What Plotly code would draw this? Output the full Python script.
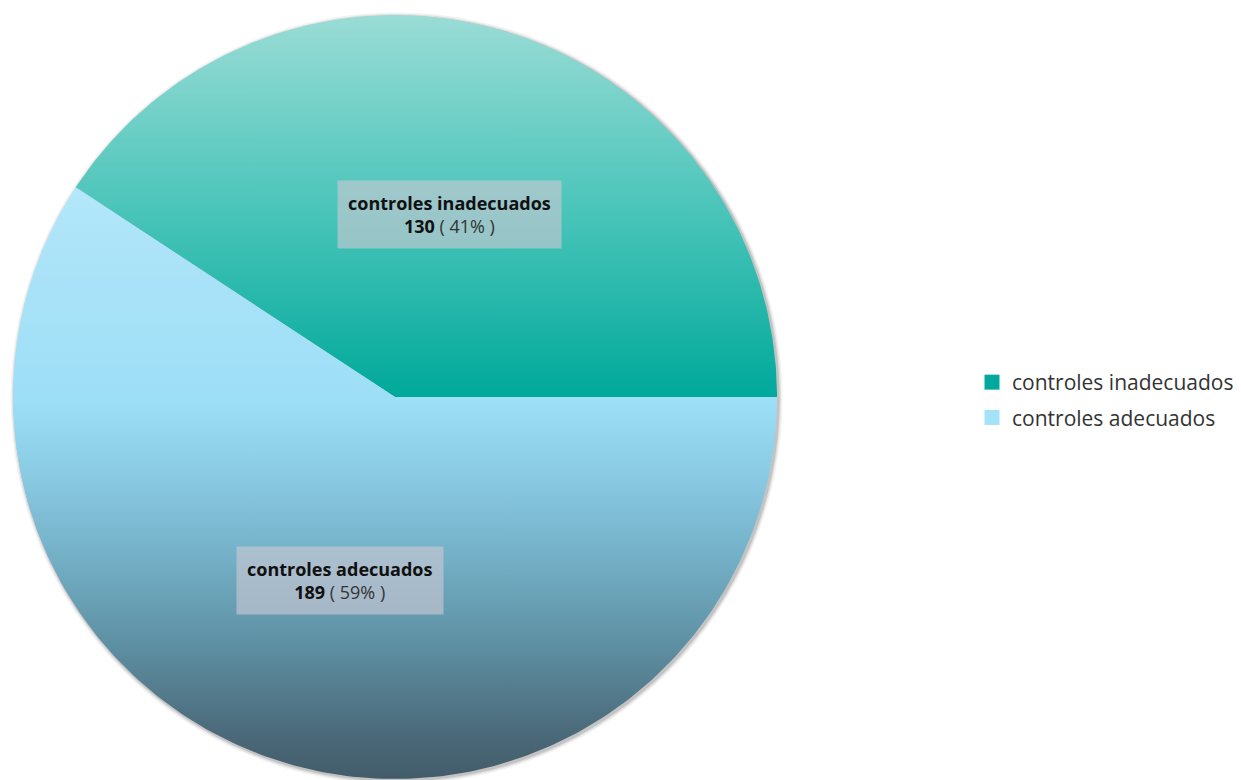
import numpy as np
import plotly.graph_objects as go

# Data
categories = ["controles inadecuados", "controles adecuados"]
values = [130, 189]
legend_colors = ["#00a99b", "#a3e2f8"]
# vertical gradients per slice (bottom -> top)
gradients = [
    [[0.0, "#00a99b"], [0.5, "#4cc5ba"], [1.0, "#9adcd6"]],
    [[0.0, "#435c6a"], [0.07, "#4a6878"], [0.235, "#5f92a5"], [0.40, "#77b5cc"],
     [0.54, "#8ecfe8"], [0.64, "#9ddff7"], [0.89, "#ace3f8"], [1.0, "#b3e8fa"]],
]

W, H = 1241, 780
cx, cy, r = 395, 383, 382
start_deg = 0.0  # first slice starts at 3 o'clock, counterclockwise

total = sum(values)
fig = go.Figure()

# soft drop shadow under the pie
for grow, alpha in [(4, 0.05), (2.5, 0.08), (1.2, 0.12)]:
    fig.add_shape(type="circle", xref="x", yref="y",
                  x0=cx - r - grow + 1.5, x1=cx + r + grow + 1.5,
                  y0=cy - r - grow - 1.5, y1=cy + r + grow - 1.5,
                  line=dict(width=0), fillcolor=f"rgba(0,0,0,{alpha})", layer="below")

angle = start_deg
for name, val, grad in zip(categories, values, gradients):
    span = 360.0 * val / total
    th = np.radians(np.linspace(angle, angle + span, 240))
    xs = np.concatenate([[cx], cx + r * np.cos(th), [cx]])
    ys = np.concatenate([[cy], cy + r * np.sin(th), [cy]])
    fig.add_trace(go.Scatter(
        x=xs, y=ys, mode="lines", fill="toself",
        line=dict(width=0, color="rgba(0,0,0,0)"),
        fillgradient=dict(type="vertical", colorscale=grad),
        showlegend=False, hoverinfo="skip",
    ))
    mid = np.radians(angle + span / 2)
    pct = round(100 * val / total)
    fig.add_annotation(
        x=cx + 0.5 * r * np.cos(mid), y=cy + 0.5 * r * np.sin(mid),
        xref="x", yref="y", showarrow=False,
        text=f"<b>{name}</b><br><b>{val}</b> <span style='color:#333'>( {pct}% )</span>",
        font=dict(family="Open Sans", size=18, color="#111"),
        bgcolor="rgba(205,200,212,0.62)", borderpad=10, align="center",
    )
    angle += span

# legend entries
for name, col in zip(categories, legend_colors):
    fig.add_trace(go.Scatter(
        x=[None], y=[None], mode="markers", name=name, legendgroup=name,
        marker=dict(symbol="square", size=15, color=col),
    ))

fig.update_layout(
    width=W, height=H, margin=dict(l=0, r=0, t=0, b=0),
    paper_bgcolor="white", plot_bgcolor="white",
    xaxis=dict(range=[0, W], visible=False, fixedrange=True),
    yaxis=dict(range=[0, H], visible=False, fixedrange=True),
    legend=dict(x=972 / W, y=380 / H, xanchor="left", yanchor="middle",
                font=dict(family="Open Sans", size=21, color="#333"),
                tracegroupgap=5),
    showlegend=True,
)

fig.write_html("out.html")
